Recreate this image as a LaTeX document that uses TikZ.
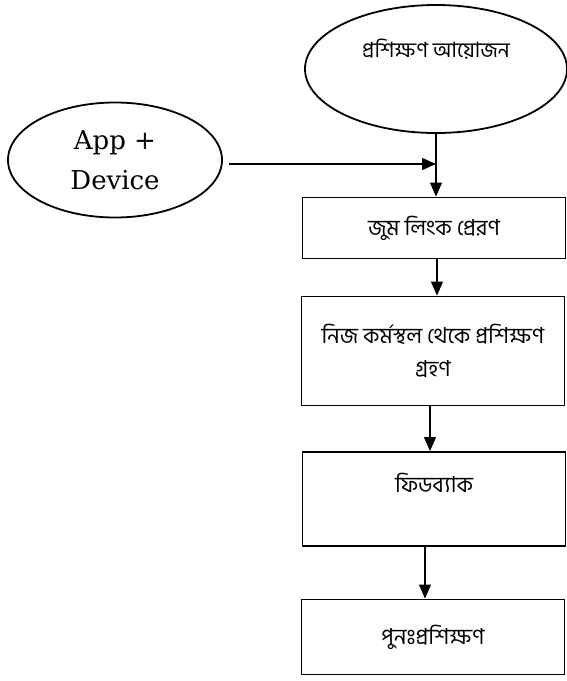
\documentclass[tikz,border=0pt]{standalone}
\usepackage{fontspec}
\setmainfont{DejaVu Serif}
\newfontfamily\bnfont[Script=Bengali]{Hind Siliguri}
\usepackage{tikz}
\usetikzlibrary{shapes,arrows.meta}
\tikzstyle{ovalbox} = [draw=black, line width=1.8pt, ellipse, inner sep=0pt]
\tikzstyle{stepbox} = [draw=black, line width=1.9pt, rectangle, inner sep=0pt, minimum width=263pt, font=\bnfont\fontsize{22}{33}\selectfont, align=center]
\tikzstyle{flow} = [line width=1.2pt, -{Triangle[length=14pt,width=12pt]}]

\begin{document}
\begin{tikzpicture}[x=1pt,y=-1pt]
\useasboundingbox (0,0) rectangle (567,681);
% ovals
\node [ovalbox, minimum width=262pt, minimum height=128pt,
       label={[font=\bnfont\fontsize{21}{24}\selectfont, yshift=20pt]center:প্রশিক্ষণ আয়োজন}] (plan) at (436,69) {};
\node [ovalbox, minimum width=214pt, minimum height=115pt, align=center,
       font=\fontsize{26}{40}\selectfont] (app) at (115,160) {App +\\Device};
% steps
\node [stepbox, minimum height=61pt] (zoom) at (434,228) {জুম লিংক প্রেরণ};
\node [stepbox, minimum height=109pt] (work) at (433,351) {নিজ কর্মস্থল থেকে প্রশিক্ষণ\\গ্রহণ};
\node [stepbox, minimum height=94pt,
       label={[font=\bnfont\fontsize{22}{24}\selectfont, yshift=16pt]center:ফিডব্যাক}] (feed) at (434,499) {};
\node [stepbox, minimum height=75pt] (retrain) at (433,637) {পুনঃপ্রশিক্ষণ};
% connectors
\coordinate (join) at (436,164);
\draw [flow] (app.east |- join) ++(6,0) -- (join);
\draw [flow] (plan.south) -- (zoom.north -| plan.south);
\draw [flow] (zoom.south -| 437,0) -- (work.north -| 437,0);
\draw [flow] (work.south -| 430,0) -- (feed.north -| 430,0);
\draw [flow] (feed.south -| 425,0) -- (retrain.north -| 425,0);
\end{tikzpicture}
\end{document}
